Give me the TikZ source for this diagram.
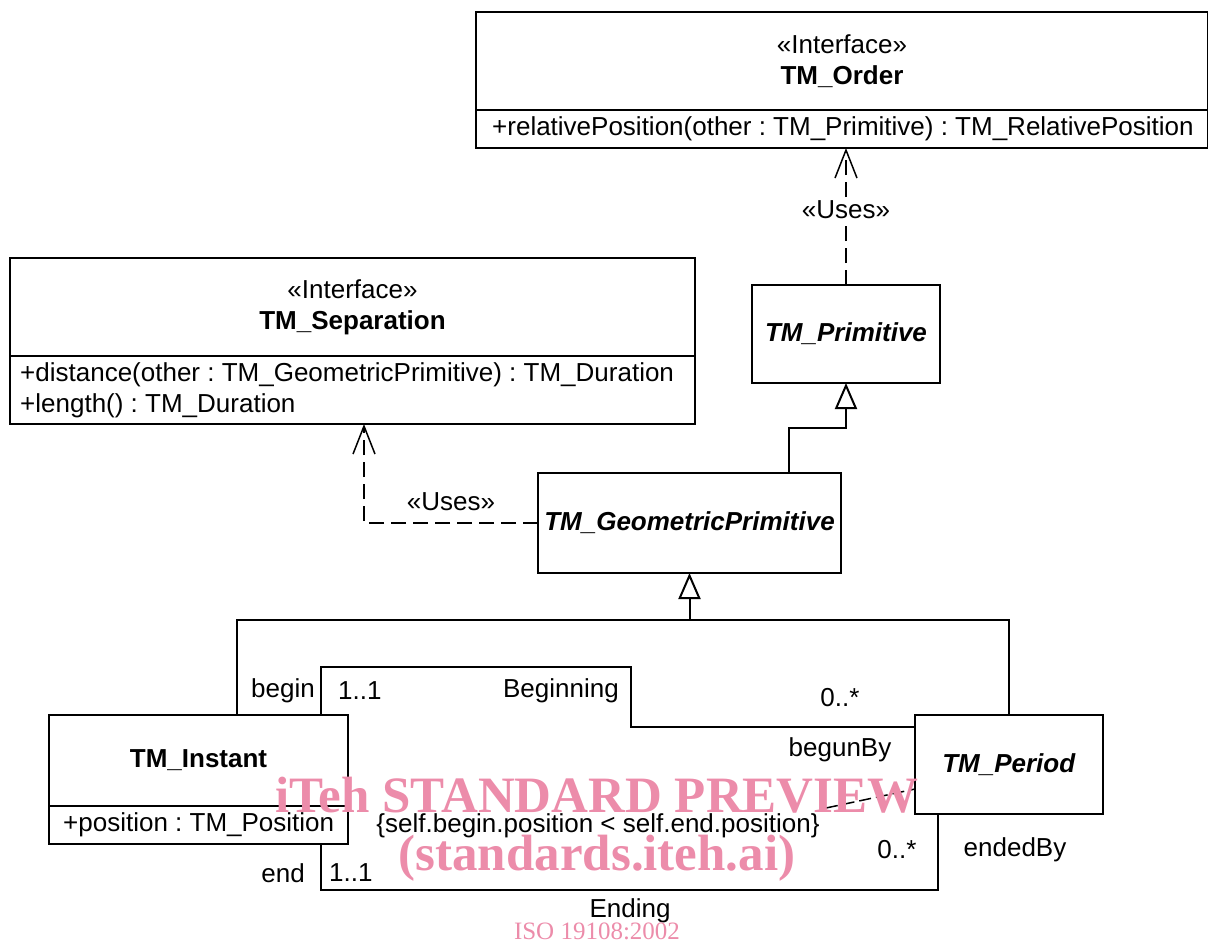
\documentclass[tikz,border=0pt]{standalone}
\usepackage{fontspec}
\setmainfont{Liberation Sans}
\newfontfamily\wmfont{Liberation Serif}
\usepackage{xcolor}
\usetikzlibrary{positioning}
\usetikzlibrary{arrows.meta}
\frenchspacing

\definecolor{wmpink}{RGB}{236,140,170}

\tikzset{
  classbox/.style={draw, line width=2pt, inner sep=0pt, outer sep=0pt, align=center},
  line/.style={line width=2pt},
  gen/.style={line width=2pt, -{Triangle[open, length=26pt, width=22pt]}},
  uses/.style={line width=1.5pt, dash pattern=on 15pt off 7pt, -{Straight Barb[length=28pt, width=22pt]}},
  constr/.style={line width=1.5pt, dash pattern=on 12pt off 5pt},
  lbl/.style={inner sep=0pt},
  wmark/.style={text=wmpink, inner sep=0pt, font=\wmfont\bfseries\fontsize{51}{51}\selectfont}
}

\begin{document}
\begin{tikzpicture}[x=1pt, y=-1pt, font=\fontsize{26}{31}\selectfont]
  \useasboundingbox (0,0) rectangle (1208,943);
  % classes
  \node[classbox, minimum width=732pt, minimum height=98pt] (order) at (842,61) {«Interface»\\\textbf{TM\_Order}};
  \node[classbox, minimum width=732pt, minimum height=38pt, below=0pt of order] (orderops) {};
  \node[lbl, anchor=west] (orderop) at ([xshift=16pt]orderops.west) {+relativePosition(other : TM\_Primitive) : TM\_RelativePosition};

  \node[classbox, minimum width=685pt, minimum height=98pt] (sep) at (352.5,307) {«Interface»\\\textbf{TM\_Separation}};
  \node[classbox, minimum width=685pt, minimum height=68pt, below=0pt of sep] (sepops) {};
  \node[lbl, anchor=west, align=left] (sepop) at ([xshift=10pt]sepops.west) {+distance(other : TM\_GeometricPrimitive) : TM\_Duration\\+length() : TM\_Duration};

  \node[classbox, minimum width=188pt, minimum height=98pt] (prim) at (846,334) {\textbf{\textit{TM\_Primitive}}};
  \node[classbox, minimum width=303pt, minimum height=100pt] (geo) at (689.5,523) {\textbf{\textit{TM\_GeometricPrimitive}}};

  \node[classbox, minimum width=299pt, minimum height=91pt] (inst) at (198.5,760.5) {\textbf{TM\_Instant}};
  \node[classbox, minimum width=299pt, minimum height=38pt, below=0pt of inst] (instops) {};
  \node[lbl, anchor=west] (instop) at ([xshift=14pt]instops.west) {+position : TM\_Position};

  \node[classbox, minimum width=188pt, minimum height=99pt] (per) at (1009,764.5) {\textbf{\textit{TM\_Period}}};

  % dependencies
  \draw[uses] (prim.north) -- (prim.north |- orderops.south)
    node[pos=0.55, fill=white, inner sep=2pt] (usesorder) {«Uses»};
  \draw[uses] (geo.west) -| ([xshift=11.5pt]sepops.south)
    node[pos=0.25, above=8pt] (usessep) {«Uses»};

  % generalizations
  \draw[gen] ([xshift=99.5pt]geo.north) -- ++(0,-45) -| (prim.south);
  \coordinate (genjoin) at (689.5,620);
  \draw[line] ([xshift=38.5pt]inst.north) |- (genjoin);
  \draw[line] (per.north) |- (genjoin);
  \draw[gen] (genjoin) -- (geo.south);

  % associations
  \draw[line] ([xshift=122.5pt]inst.north) |- (631,667) |- ([yshift=37.5pt]per.west);
  \draw[line] ([xshift=122.5pt]instops.south) -- ++(0,46) -| ([xshift=-71pt]per.south);

  \node[lbl, anchor=east] (beginrole) at (315,691) {begin};
  \node[lbl, anchor=west] (beginmult) at (338,691) {1..1};
  \node[lbl, anchor=east] (beginname) at (619,691) {Beginning};
  \node[lbl] (begunmult) at (840,698) {0..*};
  \node[lbl] (begunrole) at (840,750) {begunBy};

  \node[lbl, anchor=east] (endrole) at (305,873) {end};
  \node[lbl, anchor=west] (endmult) at (329,873) {1..1};
  \node[lbl] (endname) at (630,911) {Ending};
  \node[lbl] (endedmult) at (897,850) {0..*};
  \node[lbl] (endedrole) at (1015,850) {endedBy};

  % constraint
  \node[lbl] (cons) at (598,826) {\{self.begin.position < self.end.position\}};
  \coordinate (consend) at (826,808);
  \draw[constr] (consend) -- ([yshift=-24.5pt]per.west);

  % watermark
  \node[wmark] (wm1) at (597,795) {iTeh STANDARD PREVIEW};
  \node[wmark] (wm2) at (597,858) {(standards.iteh.ai)};
  \node[wmark, font=\wmfont\fontsize{25}{25}\selectfont] (wm3) at (597,931) {ISO 19108:2002};
\end{tikzpicture}
\end{document}
